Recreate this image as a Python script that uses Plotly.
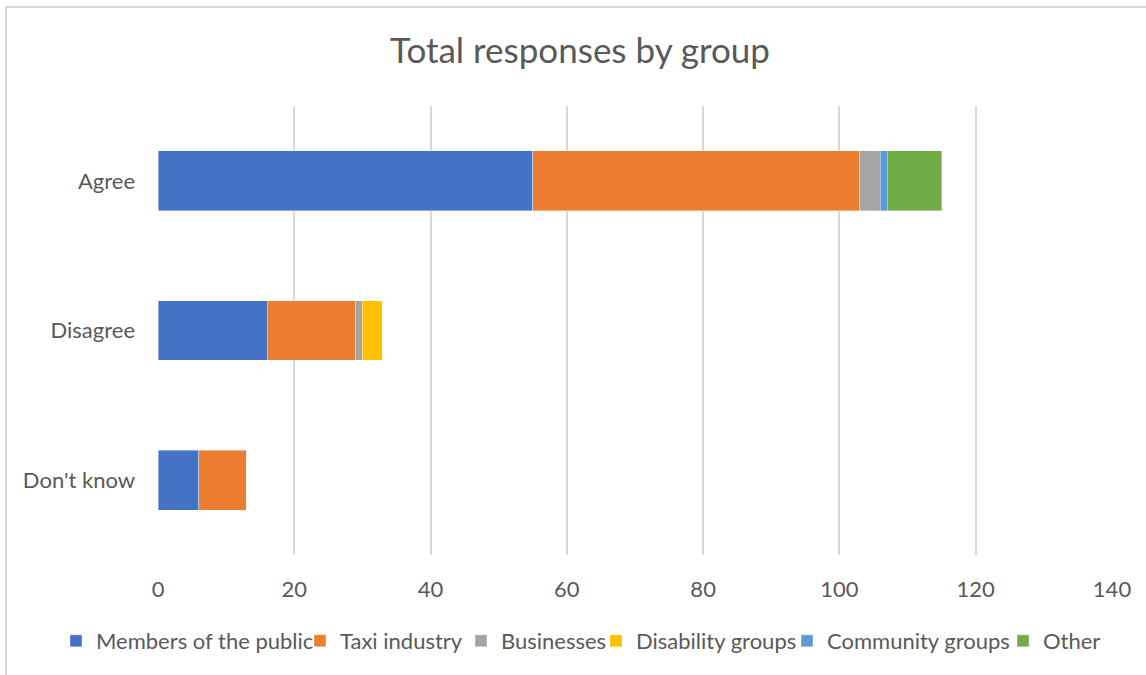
import plotly.graph_objects as go

categories = ["Agree", "Disagree", "Don't know"]
series_names = ["Members of the public", "Taxi industry", "Businesses",
                "Disability groups", "Community groups", "Other"]
members = [55, 16, 6]
taxi = [48, 13, 7]
businesses = [3, 1, 0]
disability = [0, 3, 0]
community = [1, 0, 0]
other = [8, 0, 0]
colors = ["#4472C4", "#ED7D31", "#A5A5A5", "#FFC000", "#5B9BD5", "#70AD47"]
x_ticks = [0, 20, 40, 60, 80, 100, 120, 140]

values = [members, taxi, businesses, disability, community, other]

W, H = 1146, 675
L, R, T, B = 158, 34, 106, 120
pw, ph = W - L - R, H - T - B

# x pixel where each legend entry's text starts (layout only)
legend_text_x = [96, 340, 501, 636, 827, 1043]
legend_keys = ["legend", "legend2", "legend3", "legend4", "legend5", "legend6"]

fig = go.Figure()
for name, vals, col, lk in zip(series_names, values, colors, legend_keys):
    fig.add_trace(go.Bar(
        y=categories, x=vals, name=name, orientation="h", legend=lk,
        marker=dict(color=col, line=dict(color="rgba(255,255,255,0.5)", width=0.8)),
    ))

font_family = "Lato, 'Open Sans', sans-serif"
legend_layouts = {}
for lk, tx in zip(legend_keys, legend_text_x):
    legend_layouts[lk] = dict(
        orientation="h", x=(tx - 40) / W, xanchor="left", xref="container",
        y=1 - 641 / H, yref="container", yanchor="middle",
        font=dict(size=22, color="#595959", family=font_family),
        itemwidth=30, bgcolor="rgba(0,0,0,0)", borderwidth=0,
    )

fig.update_layout(
    width=W, height=H,
    barmode="stack", bargap=0.6,
    plot_bgcolor="white", paper_bgcolor="white",
    margin=dict(l=L, r=R, t=T, b=B, autoexpand=False),
    title=dict(text="Total responses by group", x=580 / W, xref="container",
               y=1 - 51 / H, yanchor="middle", xanchor="center",
               font=dict(family=font_family, size=35, color="#595959")),
    font=dict(family=font_family, color="#595959"),
    xaxis=dict(range=[0, 140], tickvals=x_ticks, showgrid=True,
               gridcolor="#D9D9D9", gridwidth=1.5, zeroline=False,
               showline=False, ticks="", ticklabelstandoff=19,
               tickfont=dict(size=22, color="#595959"), fixedrange=True),
    yaxis=dict(categoryorder="array", categoryarray=categories,
               autorange="reversed", showgrid=False, zeroline=False,
               showline=False, ticks="", ticklabelstandoff=22,
               tickfont=dict(size=22, color="#595959")),
    showlegend=True,
    **legend_layouts,
)

# chart border
fig.add_shape(type="rect", xref="paper", yref="paper",
              x0=(6 - L) / pw, x1=(W + 10 - L) / pw,
              y0=(H - B - (H + 10)) / ph, y1=(H - B - 7) / ph,
              line=dict(color="#D9D9D9", width=2), fillcolor="rgba(0,0,0,0)",
              layer="below")

fig.write_html("out.html")
